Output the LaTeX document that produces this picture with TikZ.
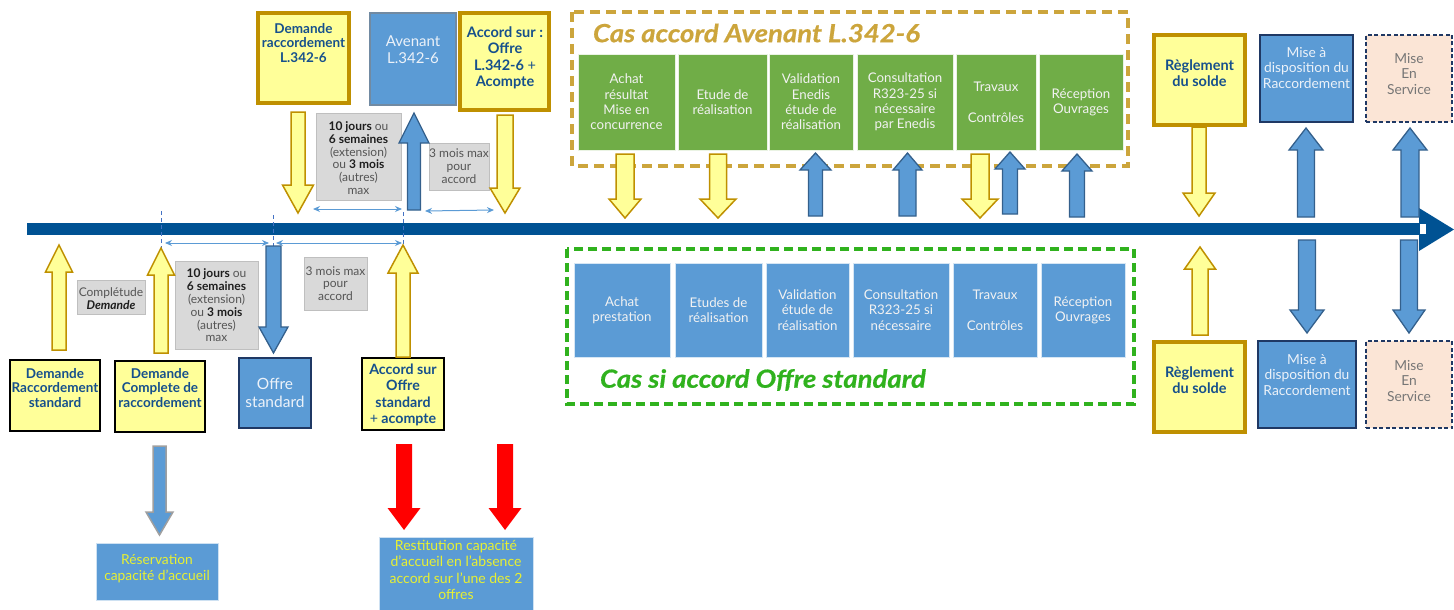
\documentclass[tikz,border=0pt]{standalone}
\usepackage{fontspec}
\setmainfont{Lato}
\usetikzlibrary{arrows.meta}
\definecolor{tline}{RGB}{0,82,147}
\definecolor{yfill}{RGB}{255,255,153}
\definecolor{gold}{RGB}{191,144,0}
\definecolor{dblue}{RGB}{22,80,140}
\definecolor{bfill}{RGB}{91,155,213}
\definecolor{bline}{RGB}{52,96,140}
\definecolor{navy}{RGB}{31,56,100}
\definecolor{gfill}{RGB}{112,173,71}
\definecolor{goldd}{RGB}{204,165,60}
\definecolor{grn}{RGB}{48,178,30}
\definecolor{gbox}{RGB}{217,217,217}
\definecolor{gboxline}{RGB}{191,191,191}
\definecolor{peach}{RGB}{251,229,214}
\definecolor{greytxt}{RGB}{118,118,118}
\definecolor{lighttxt}{RGB}{236,242,249}
\definecolor{ytxt}{RGB}{232,240,50}
\definecolor{gtxtn}{RGB}{85,85,85}
\definecolor{gtxtb}{RGB}{30,30,30}
\definecolor{mark}{RGB}{68,114,196}
\newcommand{\blkdown}[7]{%
 \draw[#1] ({#2-#5},#3) -- ({#2+#5},#3) -- ({#2+#5},{#4-#7}) -- ({#2+#6},{#4-#7}) -- (#2,#4) -- ({#2-#6},{#4-#7}) -- ({#2-#5},{#4-#7}) -- cycle;}
\newcommand{\blkup}[7]{%
 \draw[#1] ({#2-#5},#4) -- ({#2+#5},#4) -- ({#2+#5},{#3+#7}) -- ({#2+#6},{#3+#7}) -- (#2,#3) -- ({#2-#6},{#3+#7}) -- ({#2-#5},{#3+#7}) -- cycle;}
\begin{document}
\begin{tikzpicture}[x=1pt,y=-1pt,
  every node/.style={inner sep=0pt, outer sep=0pt, align=center},
  ybox/.style={fill=yfill, draw=gold, line width=3.5pt},
  ybk/.style={fill=yfill, draw=black, line width=1.8pt},
  bbox/.style={fill=bfill, draw=navy, line width=2pt},
  gstep/.style={fill=gfill, draw=white!85!gfill, line width=0.6pt, minimum height=96pt},
  bstep/.style={fill=bfill, draw=white!75!bfill, line width=0.6pt, minimum height=94pt},
  greybox/.style={fill=gbox, draw=gboxline, line width=0.8pt},
  bluetxt/.style={text=dblue, font=\fontsize{13.5}{14.6}\selectfont\bfseries},
  lighttext/.style={text=lighttxt, font=\fontsize{13.8}{15.5}\selectfont},
  greytext/.style={text=gtxtn, font=\fontsize{12}{12.8}\selectfont},
  steptxt/.style={text=white!95!black, font=\fontsize{13.3}{15.3}\selectfont},
  yarrow/.style={fill=yfill, draw=gold, line width=1.5pt, line join=miter},
  barrow/.style={fill=bfill, draw=bline, line width=1.3pt, line join=miter},
  gbarrow/.style={fill=bfill, draw=gray!75, line width=1.5pt, line join=miter},
  rarrow/.style={fill=red, draw=none},
  dbl/.style={draw=bfill, line width=1pt, {Stealth[length=7pt,width=6pt]}-{Stealth[length=7pt,width=6pt]}},
  marker/.style={draw=mark, line width=1pt, dash pattern=on 4pt off 3pt},
  titlefont/.style={font=\fontsize{25}{28}\selectfont\bfseries\itshape\addfontfeatures{FakeStretch=1.1,FakeBold=0.6}}
]
\useasboundingbox (0,0) rectangle (1454,610);
% timeline
\fill[tline] (27,223) rectangle (1420,235);
\fill[tline] (1419,208) -- (1454,229.5) -- (1419,251) -- cycle;
\fill[white] (1420,223.5) rectangle (1426,234);

% dashed frames
\draw[goldd, line width=4pt, dash pattern=on 10pt off 6pt] (572,12) rectangle (1128,166);
\node[titlefont, text=goldd, anchor=west] (t1) at (593,33) {Cas accord Avenant L.342-6};
\draw[grn, line width=3.5pt, dash pattern=on 9pt off 5pt] (567,249) rectangle (1134,404);
\node[titlefont, text=grn, anchor=west] (t2) at (600,380) {Cas si accord Offre standard};

% top left boxes
\node[ybox, minimum width=91pt, minimum height=90pt] (A) at (303.5,58) {};
\node[bluetxt] (Atx) at (303.5,43) {Demande\\raccordement\\L.342-6};
\node[fill=bfill, draw=gray!60!bfill, line width=1.5pt, minimum width=86pt, minimum height=92pt] (B) at (413,59) {};
\node[lighttext, font=\fontsize{15}{17}\selectfont] (Btx) at (413,50) {Avenant\\L.342-6};
\node[ybox, minimum width=89pt, minimum height=97pt] (C) at (504.5,61.5) {};
\node[bluetxt, font=\fontsize{14.5}{16.5}\selectfont\bfseries] (Ctx) at (505,58) {Accord sur :\\Offre\\L.342-6 {\mdseries +}\\Acompte};
\node[greybox, minimum width=85pt, minimum height=87pt] (G1) at (358.5,156.5) {};
\node[greytext] (G1tx) at (358.5,158) {{\color{gtxtb}\bfseries 10 jours} ou\\{\color{gtxtb}\bfseries 6 semaines}\\(extension)\\ou {\color{gtxtb}\bfseries 3 mois}\\(autres)\\max};
\node[greybox, minimum width=60pt, minimum height=47pt] (G2) at (459,166.5) {};
\node[greytext] (G2tx) at (459,166) {3 mois max\\pour\\accord};

% bottom left boxes
\node[ybk, minimum width=90pt, minimum height=71pt] (D) at (55,395.5) {};
\node[bluetxt] (Dtx) at (55,388) {Demande\\Raccordement\\standard};
\node[greybox, minimum width=68pt, minimum height=34pt] (E) at (111,297.5) {};
\node[greytext] (Etx) at (111,299) {Complétude\\{\color{gtxtb}\bfseries\itshape Demande}};
\node[ybk, minimum width=90pt, minimum height=71pt] (F) at (160,396.5) {};
\node[bluetxt] (Ftx) at (160,388) {Demande\\Complete de\\raccordement};
\node[greybox, minimum width=83pt, minimum height=88pt] (G3) at (216.5,305.5) {};
\node[greytext] (G3tx) at (216.5,305.5) {{\color{gtxtb}\bfseries 10 jours} ou\\{\color{gtxtb}\bfseries 6 semaines}\\(extension)\\ou {\color{gtxtb}\bfseries 3 mois}\\(autres)\\max};
\node[bbox, minimum width=72pt, minimum height=70pt] (H) at (275,393) {};
\node[lighttext, font=\fontsize{15.5}{17.5}\selectfont] (Htx) at (275,393) {Offre\\standard};
\node[greybox, minimum width=63pt, minimum height=53pt] (G4) at (335.5,283.5) {};
\node[greytext] (G4tx) at (335.5,283.5) {3 mois max\\pour\\accord};
\node[ybk, minimum width=82pt, minimum height=72pt] (I) at (403,394) {};
\node[bluetxt, font=\fontsize{14.2}{16.3}\selectfont\bfseries] (Itx) at (403,395) {Accord sur\\Offre\\standard\\{\mdseries +} acompte};

% green steps
\node[gstep, minimum width=97pt] (g1) at (626.5,102) {};
\node[steptxt] at (g1) {Achat\\résultat\\Mise en\\concurrence};
\node[gstep, minimum width=89pt] (g2) at (722.5,102) {};
\node[steptxt] at (g2) {Etude de\\réalisation};
\node[gstep, minimum width=84pt] (g3) at (811,102) {};
\node[steptxt] at (g3) {Validation\\Enedis\\étude de\\réalisation};
\node[gstep, minimum width=96pt] (g4) at (905,102) {};
\node[steptxt] at (g4) {Consultation\\R323-25 si\\nécessaire\\par Enedis};
\node[gstep, minimum width=80pt] (g5) at (996,102) {};
\node[steptxt] at (g5) {Travaux\\\mbox{}\\Contrôles};
\node[gstep, minimum width=84pt] (g6) at (1081,102) {};
\node[steptxt] at (g6) {Réception\\Ouvrages};

% blue steps
\node[bstep, minimum width=96pt] (b1) at (622,310) {};
\node[steptxt] at (b1) {Achat\\prestation};
\node[bstep, minimum width=87pt] (b2) at (718.5,310) {};
\node[steptxt] at (b2) {Etudes de\\réalisation};
\node[bstep, minimum width=83pt] (b3) at (807.5,310) {};
\node[steptxt] at (b3) {Validation\\étude de\\réalisation};
\node[bstep, minimum width=96pt] (b4) at (901,310) {};
\node[steptxt] at (b4) {Consultation\\R323-25 si\\nécessaire};
\node[bstep, minimum width=84pt] (b5) at (995,310) {};
\node[steptxt] at (b5) {Travaux\\\mbox{}\\Contrôles};
\node[bstep, minimum width=84pt] (b6) at (1083,310) {};
\node[steptxt] at (b6) {Réception\\Ouvrages};

% right boxes
\node[ybox, minimum width=91pt, minimum height=90pt] (R1) at (1199.5,80) {};
\node[bluetxt, font=\fontsize{14.5}{16.5}\selectfont\bfseries] (R1tx) at (1199.5,73) {Règlement\\du solde};
\node[bbox, minimum width=93pt, minimum height=87pt] (R2) at (1306.5,78.5) {};
\node[lighttext] (R2tx) at (1306.5,68) {Mise à\\disposition du\\Raccordement};
\node[fill=peach, draw=navy, line width=1.6pt, dash pattern=on 4pt off 2.5pt, minimum width=86pt, minimum height=87pt] (R3) at (1409,78.5) {};
\node[lighttext, text=greytxt] (R3tx) at (1409,74) {Mise\\En\\Service};
\node[ybox, minimum width=91pt, minimum height=90pt] (R4) at (1199.5,387) {};
\node[bluetxt, font=\fontsize{14.5}{16.5}\selectfont\bfseries] (R4tx) at (1199.5,380) {Règlement\\du solde};
\node[bbox, minimum width=98pt, minimum height=87pt] (R5) at (1307,384.5) {};
\node[lighttext] (R5tx) at (1307,375) {Mise à\\disposition du\\Raccordement};
\node[fill=peach, draw=navy, line width=1.6pt, dash pattern=on 4pt off 2.5pt, minimum width=86pt, minimum height=87pt] (R6) at (1409,384.5) {};
\node[lighttext, text=greytxt] (R6tx) at (1409,381) {Mise\\En\\Service};

% bottom boxes
\node[fill=bfill, draw=white!70!bfill, line width=0.6pt, minimum width=122pt, minimum height=57pt] (Res) at (157,571.5) {};
\node[lighttext, text=ytxt, font=\fontsize{13.8}{16}\selectfont] (Restx) at (157,569) {Réservation\\capacité d’accueil};
\node[fill=bfill, draw=white!70!bfill, line width=0.6pt, minimum width=154pt, minimum height=78pt] (Rest) at (456,576) {};
\node[lighttext, text=ytxt, font=\fontsize{14}{16.3}\selectfont] (Resttx) at (456,570) {Restitution capacité\\d’accueil en l’absence\\accord sur l’une des 2\\offres};

% markers
\coordinate (m1a) at (161,211); \coordinate (m1b) at (161,250);
\coordinate (m2a) at (273,215); \coordinate (m2b) at (273,248);
\coordinate (m3a) at (403,212); \coordinate (m3b) at (403,247);
\draw[marker] (m1a) -- (m1b);
\draw[marker] (m2a) -- (m2b);
\draw[marker] (m3a) -- (m3b);

% duration arrows
\coordinate (d1a) at (313,209); \coordinate (d1b) at (402,209);
\coordinate (d2a) at (425,211); \coordinate (d2b) at (494,210);
\coordinate (d3a) at (165,243); \coordinate (d3b) at (269,243);
\coordinate (d4a) at (276,243); \coordinate (d4b) at (402,243);
\draw[dbl] (d1a) -- (d1b);
\draw[dbl] (d2a) -- (d2b);
\draw[dbl] (d3a) -- (d3b);
\draw[dbl] (d4a) -- (d4b);

% block arrows top left
\blkdown{yarrow}{298}{112}{213}{7}{15.5}{28}
\blkup{barrow}{414}{113}{210}{6.5}{15}{30}
\blkdown{yarrow}{505}{115}{213}{8}{15}{25}
% block arrows bottom left
\blkup{yarrow}{59}{245}{350}{7}{13.5}{27}
\blkup{yarrow}{161}{248}{353}{7}{13.5}{27}
\blkdown{barrow}{273.5}{246}{353}{7.5}{14.5}{26}
\blkup{yarrow}{403}{245}{357}{7}{15}{28}
% green section arrows
\blkdown{yarrow}{625}{154}{218}{9}{16}{19}
\blkdown{yarrow}{718}{154}{218}{8.5}{18}{19}
\blkup{barrow}{815.5}{153}{216}{7}{15.5}{17}
\blkup{barrow}{907.5}{153}{216}{8.5}{14.5}{17}
\blkdown{yarrow}{980}{154}{218}{9}{18}{19}
\blkup{barrow}{1010}{152}{214}{7.5}{15}{17}
\blkup{barrow}{1077}{154}{217}{7.5}{15}{17}
% right arrows
\blkdown{yarrow}{1199}{127}{216}{7}{16}{23}
\blkup{barrow}{1306}{128}{217}{8.5}{17}{22}
\blkup{barrow}{1410}{128}{217}{9}{17}{22}
\blkup{yarrow}{1200}{247}{335}{8}{15.5}{22}
\blkdown{barrow}{1307}{240}{333}{8.5}{17}{23}
\blkdown{barrow}{1409}{240}{333}{8.5}{16}{23}
% bottom arrows
\blkdown{gbarrow}{159.5}{446}{535}{6.5}{13.5}{23}
\blkdown{rarrow}{404}{444}{530}{8}{16.5}{22}
\blkdown{rarrow}{505}{444}{530}{8}{16.5}{22}
\end{tikzpicture}
\end{document}
